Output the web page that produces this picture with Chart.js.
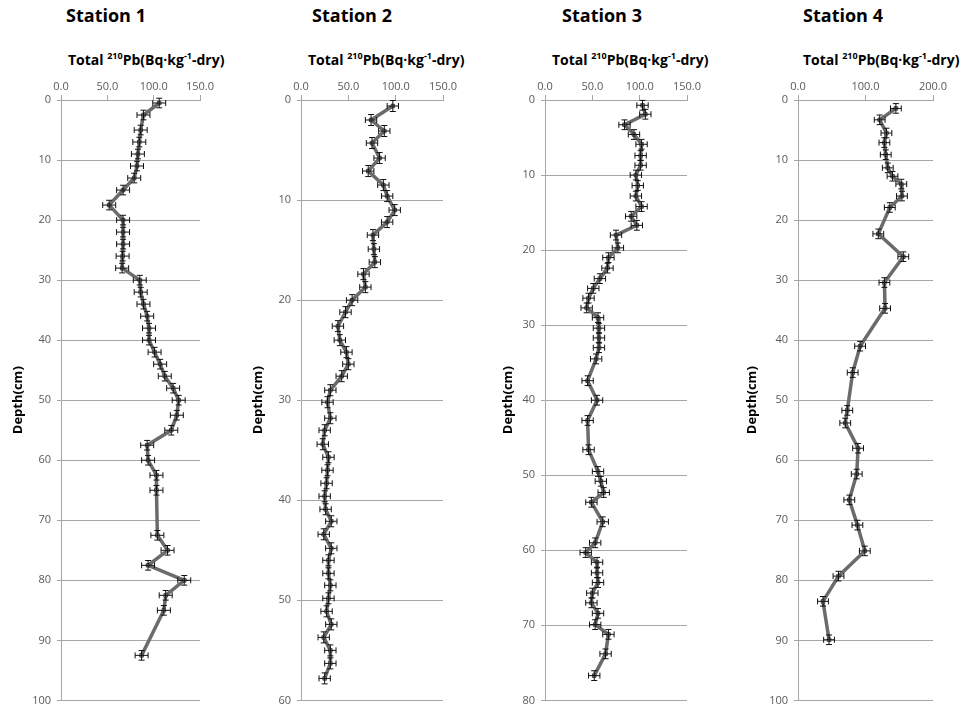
<!DOCTYPE html>
<html>
<head>
<meta charset="utf-8">
<title>Total 210Pb depth profiles</title>
<script src="https://cdn.jsdelivr.net/npm/chart.js@4.4.1/dist/chart.umd.min.js"></script>
<style>
  html, body { margin: 0; padding: 0; background: #fff; }
  #wrap { position: relative; width: 961px; height: 713px; overflow: hidden; }
  #wrap canvas { position: absolute; top: 0; }
  .st { position: absolute; top: 3px; line-height: 22px; font: bold 18px "Open Sans", "Noto Sans", sans-serif; color: #000; white-space: nowrap; transform: translateX(-50%); }
  .xt { position: absolute; top: 50px; line-height: 20px; font: bold 14px "Open Sans", "Noto Sans", sans-serif; color: #000; white-space: nowrap; }
  .xt .sup { font-size: 9px; position: relative; top: -6px; }
</style>
</head>
<body>
<div id="wrap"></div>
<script>
// Station names
const stations = ['Station 1', 'Station 2', 'Station 3', 'Station 4'];

// Station 1: sample depth (cm) and total 210Pb (Bq/kg dry)
const depth1 = [0.5, 2.5, 5, 7, 9, 11, 13, 15, 17.5, 20, 22, 24, 26, 28, 30, 32, 34, 36, 38, 40, 42, 44, 46, 48, 50, 52.5, 55, 57.5, 60, 62.5, 65, 72.5, 75, 77.5, 80, 82.5, 85, 92.5];
const pb1 = [106, 89, 86, 84.5, 83, 82, 79, 67, 52, 67, 67, 67, 66.5, 66, 85, 86, 89, 93, 95, 95, 101, 107, 112, 121, 127, 125, 119, 93, 94, 103, 103, 104, 115, 94, 133, 113, 111, 87];

// Station 2
const depth2 = [0.6, 2, 3.1, 4.3, 5.8, 7.1, 8.5, 9.6, 11, 12.2, 13.5, 14.9, 16.2, 17.4, 18.7, 20, 21.2, 22.6, 24, 25.2, 26.4, 27.6, 29, 30.2, 31.8, 33, 34.4, 35.7, 37, 38.3, 39.6, 40.9, 42.1, 43.4, 44.8, 46, 47.3, 48.5, 49.8, 51.1, 52.4, 53.7, 55, 56.3, 57.8];
const pb2 = [97, 74, 88, 75, 83, 71, 87, 91, 99, 91, 76, 77, 78, 66, 68, 54, 47, 39, 41, 48, 50, 43, 31, 28, 31, 25, 23, 29, 28, 27, 25, 26, 32, 24, 32, 29, 29, 31, 29, 27, 32, 24, 31, 31, 25];

// Station 3
const depth3 = [0.7, 1.9, 3.3, 4.6, 5.9, 7.4, 8.7, 10, 11.4, 12.8, 14.2, 15.5, 16.7, 18, 19.7, 21, 22.4, 23.8, 25.1, 26.4, 27.7, 29, 30.4, 31.7, 33, 34.5, 37.4, 40, 42.7, 46.6, 49.5, 50.8, 52.3, 53.6, 56.2, 59, 60.3, 61.6, 63, 64.3, 65.7, 67, 68.4, 69.9, 71.2, 73.8, 76.7];
const pb3 = [103, 106, 84, 94, 102, 101, 101, 96, 98, 96, 102, 91, 97, 75, 77, 67, 66, 58, 51, 46, 44, 56, 57, 57, 57, 54, 45, 55, 45, 46, 56, 59, 62, 49, 61, 53, 43, 55, 55, 56, 50, 49, 56, 53, 67, 64, 52];

// Station 4
const depth4 = [1.4, 3.3, 5.5, 7.1, 9.1, 11.3, 12.7, 14, 16, 17.9, 22.3, 26.1, 30.4, 34.7, 41, 45.4, 51.7, 53.8, 58, 62.3, 66.6, 70.8, 75.1, 79.3, 83.5, 89.9];
const pb4 = [145, 121, 131, 128, 130, 133, 140, 153, 154, 136, 119, 156, 128, 129, 92, 81, 73, 70, 89, 87, 76, 88, 99, 60, 37, 46];

// Measurement uncertainty per station: activity (Bq/kg) and depth (cm)
const pbErr = [7, 6, 6, 8];
const depthErr = [0.8, 0.55, 0.65, 0.8];

// Axis ranges and tick values
const pbTicks = [[0, 50, 100, 150], [0, 50, 100, 150], [0, 50, 100, 150], [0, 100, 200]];
const depthMax = [100, 60, 80, 100];

const depths = [depth1, depth2, depth3, depth4];
const pbs = [pb1, pb2, pb3, pb4];

// Panel placement (canvas offset and plot-area edges within each canvas)
const panels = [
  { left: 0,   width: 240, plotL: 61, plotR: 200, titlePad: 10, xTitle: 68 },
  { left: 240, width: 240, plotL: 61, plotR: 203, titlePad: 10, xTitle: 308 },
  { left: 480, width: 240, plotL: 65, plotR: 207, titlePad: 20, xTitle: 552 },
  { left: 720, width: 241, plotL: 78, plotR: 213, titlePad: 24, xTitle: 803 }
];

const FONT = '"Open Sans", "Noto Sans", sans-serif';
const TICK_COLOR = '#595959';
const GRID_COLOR = '#a6a6a6';

// Horizontal and vertical error bars with end caps
const errorBars = {
  id: 'errorBars',
  afterDatasetsDraw(chart, args, opts) {
    const { ctx } = chart;
    const xs = chart.scales.x, ys = chart.scales.y;
    const cap = 3;
    ctx.save();
    ctx.strokeStyle = '#111';
    ctx.lineWidth = 1;
    chart.data.datasets[0].data.forEach(p => {
      const px = xs.getPixelForValue(p.x);
      const py = ys.getPixelForValue(p.y);
      const xa = xs.getPixelForValue(p.x - opts.ex);
      const xb = xs.getPixelForValue(p.x + opts.ex);
      const ya = ys.getPixelForValue(p.y - opts.ey);
      const yb = ys.getPixelForValue(p.y + opts.ey);
      ctx.beginPath();
      ctx.moveTo(xa, py); ctx.lineTo(xb, py);
      ctx.moveTo(xa, py - cap); ctx.lineTo(xa, py + cap);
      ctx.moveTo(xb, py - cap); ctx.lineTo(xb, py + cap);
      ctx.moveTo(px, ya); ctx.lineTo(px, yb);
      ctx.moveTo(px - cap, ya); ctx.lineTo(px + cap, ya);
      ctx.moveTo(px - cap, yb); ctx.lineTo(px + cap, yb);
      ctx.stroke();
    });
    ctx.restore();
  }
};

const wrap = document.getElementById('wrap');

panels.forEach((pn, i) => {
  // Station title
  const st = document.createElement('div');
  st.className = 'st';
  st.textContent = stations[i];
  st.style.left = (pn.left + [106, 112, 122, 123][i]) + 'px';
  wrap.appendChild(st);

  // Activity axis title with superscripts
  const xt = document.createElement('div');
  xt.className = 'xt';
  xt.style.left = pn.xTitle + 'px';
  xt.innerHTML = 'Total <span class="sup">210</span>Pb(Bq·kg<span class="sup">-1</span>-dry)';
  wrap.appendChild(xt);

  const cv = document.createElement('canvas');
  cv.width = pn.width;
  cv.height = 713;
  cv.style.left = pn.left + 'px';
  wrap.appendChild(cv);

  const points = depths[i].map((d, k) => ({ x: pbs[i][k], y: d }));
  const ticksX = pbTicks[i];

  new Chart(cv.getContext('2d'), {
    type: 'scatter',
    data: {
      datasets: [{
        data: points,
        showLine: true,
        borderColor: '#6b6b6b',
        borderWidth: 3.5,
        tension: 0,
        pointStyle: 'rect',
        pointRadius: 2.5,
        pointBackgroundColor: '#8a8a8a',
        pointBorderColor: '#4a4a4a',
        pointBorderWidth: 1,
        clip: false
      }]
    },
    options: {
      responsive: false,
      animation: false,
      devicePixelRatio: 1,
      layout: { padding: { left: 0, right: pn.width - pn.plotR, top: 0, bottom: 8 } },
      plugins: {
        legend: { display: false },
        tooltip: { enabled: false },
        errorBars: { ex: pbErr[i], ey: depthErr[i] }
      },
      scales: {
        x: {
          type: 'linear',
          position: 'top',
          min: ticksX[0],
          max: ticksX[ticksX.length - 1],
          afterBuildTicks: s => { s.ticks = ticksX.map(v => ({ value: v })); },
          afterFit: s => { s.height = 100; },
          ticks: {
            callback: v => Number(v).toFixed(1),
            color: TICK_COLOR,
            font: { size: 11, family: FONT },
            padding: 2,
            maxRotation: 0,
            autoSkip: false
          },
          grid: { drawOnChartArea: false, drawTicks: true, tickLength: 5, color: GRID_COLOR },
          border: { display: true, color: GRID_COLOR }
        },
        y: {
          type: 'linear',
          reverse: true,
          min: 0,
          max: depthMax[i],
          afterFit: s => { s.width = pn.plotL; },
          ticks: {
            stepSize: 10,
            color: TICK_COLOR,
            font: { size: 11, family: FONT },
            padding: 6
          },
          grid: { color: GRID_COLOR, tickLength: 4 },
          border: { display: true, color: GRID_COLOR },
          title: {
            display: true,
            text: 'Depth(cm)',
            color: '#000',
            font: { size: 13, weight: 'bold', family: FONT },
            padding: { top: pn.titlePad, bottom: 0 }
          }
        }
      }
    },
    plugins: [errorBars]
  });
});
</script>
</body>
</html>
